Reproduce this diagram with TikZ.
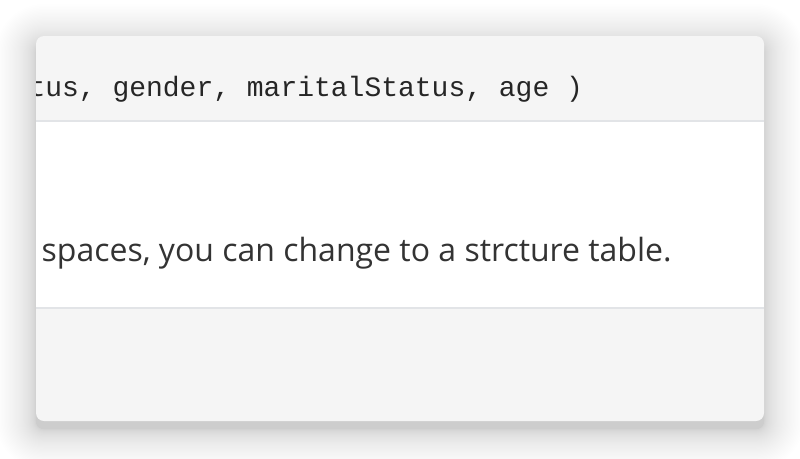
\documentclass[tikz,border=0pt]{standalone}
\usepackage{fontspec}
\setmainfont{Open Sans}
\setmonofont{Liberation Mono}
\definecolor{bandgray}{HTML}{F5F5F5}
\definecolor{rulegray}{HTML}{E2E4E7}
\definecolor{textgray}{HTML}{333333}

\begin{document}
\begin{tikzpicture}[x=1pt,y=-1pt,
	card/.style={fill=bandgray, rounded corners=8pt},
	shadowlayer/.style={fill=black, fill opacity=0.004},
	rule/.style={draw=rulegray, line width=1.5pt},
	codetext/.style={anchor=base west, inner sep=0pt, font=\ttfamily\fontsize{28}{33}\selectfont, text=black!85},
	bodytext/.style={anchor=base west, inner sep=0pt, font=\fontsize{32}{38}\selectfont, text=textgray}]
	\useasboundingbox (0,0) rectangle (800,458);
	\fill [white] (0,0) rectangle (800,458);
	% soft shadow, layers packed close to the card
	\foreach \i [evaluate=\i as \r using 40*(\i/50)^2,
	             evaluate=\i as \rad using 8+40*(\i/50)^2] in {1,...,50}
		\fill [shadowlayer, rounded corners=\rad pt] (36-\r,44-\r) rectangle (764+\r,429+\r);
	% card with its three bands
	\fill [card] (36,36) rectangle (764,421);
	\fill [white] (36,121) rectangle (764,308);
	\draw [rule] (36,121) -- (764,121);
	\draw [rule] (36,308) -- (764,308);
	\begin{scope}
		\clip (36,36) rectangle (764,421);
		\node [codetext] (code) at (28.3,96.5) {tus, gender, maritalStatus, age )};
	\end{scope}
	\node [bodytext] (body) at (41.5,261) {spaces, you can change to a strcture table.};
\end{tikzpicture}
\end{document}
